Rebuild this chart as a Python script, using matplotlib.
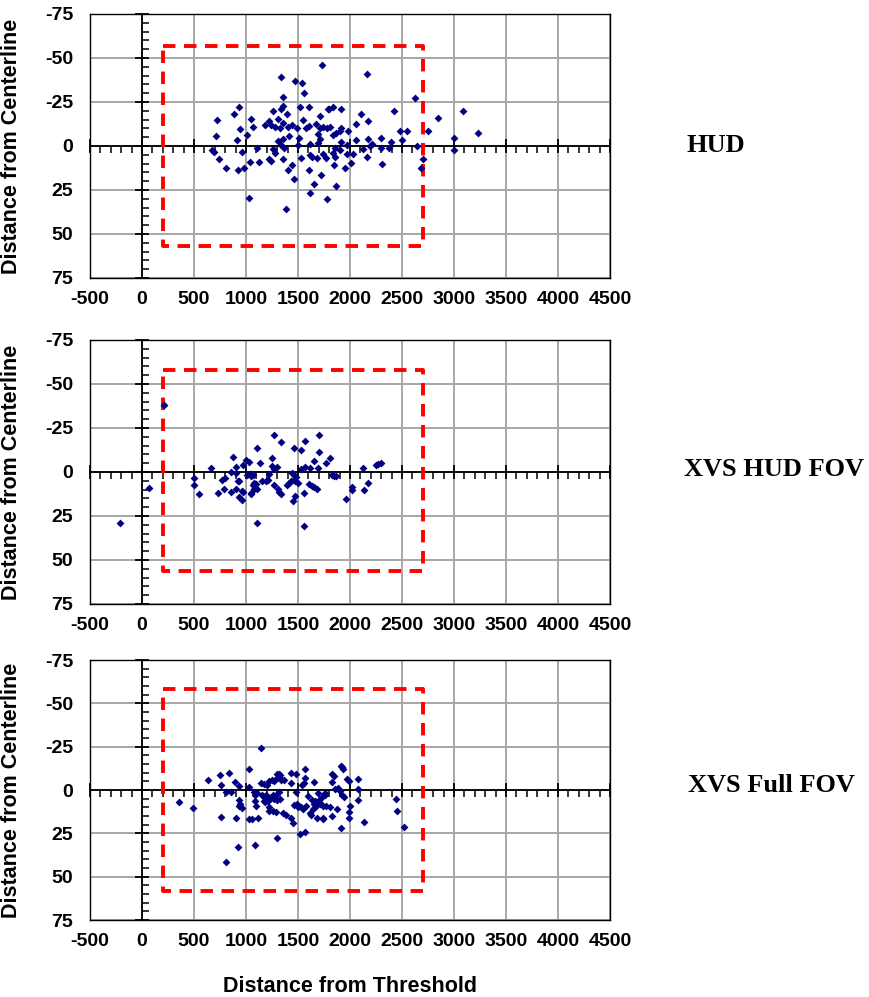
import numpy as np
import matplotlib.pyplot as plt
from matplotlib.ticker import MultipleLocator

# ---- data (distance from threshold, distance from centerline) ----
hud_x = [1728, 1337, 1471, 1535, 1558, 1353, 1359, 1337, 1256, 1391, 1519, 1606, 1788, 936, 887,
         718, 1048, 1071, 942, 1013, 708, 910, 1183, 1224, 1311, 1237, 1279, 1327, 1353, 1407,
         1439, 1487, 1551, 1577, 1609, 1673, 1712, 1712, 1744, 1776, 1696, 1712, 1696, 1615, 1513,
         1503, 1417, 1353, 1311, 1334, 1256, 1279, 1368, 1103, 958, 676, 695, 737, 811, 926,
         984, 1035, 1128, 1218, 1237, 1353, 1439, 1401, 1465, 1526, 1615, 1638, 1679, 1744, 1766,
         1609, 1721, 1657, 1615, 1776, 1032, 1388,
         2160, 2625, 3090, 2843, 3234, 2747, 2551, 2481, 2497, 3000, 3000, 2641, 2699, 2683,
         2423, 2176, 2103, 2054, 1984, 1911, 1840, 1798, 1911, 1808, 1865, 1904, 1840, 1911,
         2054, 2176, 2192, 2215, 2298, 2298, 2394, 2375, 2122, 1974, 2032, 1968, 1904, 1856,
         1840, 1856, 2160, 2010, 1952, 1843, 1865, 2311]
hud_y = [-46, -39, -37, -36, -30, -28, -23, -21, -20, -18, -22, -22, -21, -22, -18,
         -15, -15.5, -11, -9.5, -6, -5.7, -3.4, -12, -14, -15.5, -12, -11, -10.4, -13, -11,
         -12, -10.4, -14.6, -10, -11.4, -12.7, -17, -10, -10.8, -10.4, -6.6, -3.8, -1.9, -1, -4.4,
         -0.6, -5.7, -3.8, -2.8, -0.6, 1.9, 3.8, 0.9, 0.9, 3.2, 2.5, 3.4, 7.6, 12.3, 13.8,
         12.3, 9.1, 9.1, 7.6, 8.5, 7.2, 10.8, 13.5, 19, 6.6, 5.1, 6, 6.6, 4.7, 6.6,
         13.5, 16.3, 21.8, 26.5, 29.9, 29.7, 36,
         -41, -27.5, -20, -15.7, -7.6, -8.3, -8.5, -8.3, -3.2, -4.4, 2.5, 0, 7.6, 12.7,
         -20, -14.2, -18, -12.3, -8.5, -20.8, -22, -21, -10, -10.8, -7.6, -8.5, -6.2, -2.5,
         -3.2, -4.2, 0, -0.9, -4.7, 0.9, -2.3, 1.3, 1.5, -0.6, 4.4, 4.7, 2.5, 0.9,
         3.8, 6.2, 6.2, 9.5, 12.7, 11, 22.9, 10.4]

xvs_hud_x = [215, -215, 65, 502, 502, 550, 662, 735, 767, 796, 792, 853, 876, 901, 907,
             926, 901, 853, 933, 965, 971, 974, 997, 1029, 1013, 1045, 1067, 1083, 1045, 1103,
             1103, 1271, 1338, 1706, 1572, 1466, 1526, 1699, 1246, 1131, 1252, 1268, 1300, 1651, 1773,
             1809, 1692, 1619, 1572, 1529, 2122, 2247, 2295, 2270, 1830, 1850, 1870, 1440, 1460, 1480,
             1218, 1035, 1050, 1065, 935, 965, 1045, 1077, 1093, 1109, 1077, 1156, 1188, 1213, 1274,
             1309, 1322, 1332, 1395, 1418, 1437, 1459, 1475, 1500, 1452, 1475, 1560, 1603, 1635, 1651,
             1682, 2020, 2020, 1962, 2136, 2176, 1555]
xvs_hud_y = [-38.3, 28.7, 8.9, 3.2, 7.4, 12.6, -2.1, 12, 4.5, 3.6, 9.8, -0.2, -8.5, -2.8, 0.4,
             5.1, 9.8, 11.1, 14.1, 16, 11.3, -4, -6.8, -5.7, 1.9, 1, 7.4, 9.2, 11.7, -13.7,
             29, -21.3, -17.2, -20.9, -17.5, -13.4, -12.6, -11.1, -7.8, -4.9, -3.4, -1.5, -3, -6.2, -5.3,
             -7.8, -2.4, -2.1, -2.8, -1.5, -2.4, -4, -4.9, -4.3, 1.7, 2.3, 2, 0.5, 1.8, 2.8,
             1, 1, 2.3, 1.5, 5, 11, 12.3, 6, 7.1, 9.4, 9.4, 5.1, 5.1, 4.7, 7.4,
             9.4, 11.3, 12.6, 7.4, 6, 5.1, 4.5, 5.1, 6, 16.4, 13.6, 11.7, 6.6, 7.9, 8.5,
             9.8, 8.5, 10.3, 15.1, 10.4, 6, 30.7]

xvs_full_x = [1141, 1029, 837, 751, 639, 758, 895, 933, 811, 853, 359, 486, 758, 901, 935,
              945, 935, 960, 1029, 1029, 1055, 1115, 1086, 926, 811, 1294, 1523, 1571, 1080, 1090,
              1105, 1141, 1170, 1204, 1220, 1250, 1270, 1295, 1315, 1330, 1340, 1365, 1300, 1316, 1437,
              1476, 1571, 1565, 1555, 1540, 1657, 1437, 1476, 1150, 1170, 1190, 1200, 1215, 1190, 1170,
              1180, 1215, 1230, 1260, 1270, 1300, 1330, 1285, 1315, 1090, 1095, 1220, 1225, 1255, 1285,
              1354, 1380, 1428, 1450, 1466, 1490, 1500, 1530, 1550, 1580, 1620, 1640, 1660, 1680, 1665,
              1650, 1700, 1715, 1600, 1630, 1690, 1730, 1760, 1745, 1680, 1737, 1625,
              1909, 1920, 1928, 1826, 1842, 1826, 1970, 1986, 2081, 2075, 2081, 1858, 1880, 1906, 1920,
              1940, 1763, 1700, 1715, 1768, 1810, 1874, 2002, 1986, 1995, 1826, 1737, 1916, 2139, 2438,
              2455, 2522]
xvs_full_y = [-24, -12.1, -10, -8.7, -5.8, -2.9, -4.4, -2.3, 1, 1, 6.7, 10.6, 15.8, 16.3, 6,
              8, 9.5, 10.6, -1.9, 16.7, 16.7, 16.3, 31.7, 32.7, 41.3, 27.5, 25.4, 24, 1, 3,
              2, -4, -3.5, -3, -5, -6, -5, -7, -7.5, -8.5, -6, -6, -9, -9, -10,
              -9, -12, -7, -4, -3, -4.4, -4.2, 1, 3, 4, 3, 5, 4, 6, 6.5,
              7, 6.5, 5, 3, 5, 5.5, 5, 3, 1, 6.4, 9, 9.6, 12, 12, 12.5,
              13, 14.5, 16, 18.9, 8.7, 8, 10, 10, 11, 9, 13, 11, 10, 8.7, 6.5,
              8, 7, 8, 3.6, 5.5, 2, 4, 3, 9, 16.3, 16.3, 14.4,
              -14, -13, -12.3, -9.2, -8.3, -4.4, -6.3, -5.4, -6.3, -0.6, 5.8, -0.6, -1, 0.4, 2.9,
              3.8, 1.9, 5.8, 7.7, 9.2, 10, 11.2, 9.2, 12.5, 16.3, 14.8, 16.7, 21.7, 18.3, 5.4,
              11.9, 21.3]

# dashed approach boxes [x0, x1, y_top, y_bottom]
boxes = [[200, 2700, -57, 57], [200, 2700, -58, 56], [200, 2700, -58, 58]]
titles = ['HUD', 'XVS HUD FOV', 'XVS Full FOV']
xticks = list(range(-500, 4501, 500))
yticks = [-75, -50, -25, 0, 25, 50, 75]

panels = [(hud_x, hud_y), (xvs_hud_x, xvs_hud_y), (xvs_full_x, xvs_full_y)]
# axes rectangles in figure pixels: top, bottom
rects = [(14, 278), (340, 604), (660, 920)]
title_pos = [(716, 145), (774, 470), (771, 786)]

W, H = 869, 997
fig = plt.figure(figsize=(W / 100, H / 100), dpi=100)
tick_font = dict(fontfamily='Liberation Sans', fontweight='bold', fontsize=14)

for i, ((px, py), (t, b)) in enumerate(zip(panels, rects)):
    pos = [90 / W, 1 - b / H, 520 / W, (b - t) / H]
    ax = fig.add_axes(pos)
    ax.set_xlim(-500, 4500)
    ax.set_ylim(75, -75)
    ax.set_xticks(xticks)
    ax.set_yticks(yticks)
    ax.set_xticklabels([str(v) for v in xticks], **tick_font)
    ax.set_yticklabels([str(v) for v in yticks], **tick_font)
    ax.tick_params(length=0, pad=9)
    ax.tick_params(axis='y', pad=12)
    ax.grid(color='#a6a6a6', lw=1.4)
    for s in ax.spines.values():
        s.set_linewidth(1.0)
    ax.set_ylabel('Distance from Centerline', fontfamily='Liberation Sans',
                  fontweight='bold', fontsize=15.5)
    ax.yaxis.set_label_coords(-0.13, 0.5)
    if i == 2:
        ax.set_xlabel('Distance from Threshold', fontfamily='Liberation Sans',
                      fontweight='bold', fontsize=15.5)
        ax.xaxis.set_label_coords(0.5, -0.215)

    # crossing axes at zero with tick marks
    ax2 = fig.add_axes(pos)
    ax2.set_xlim(-500, 4500)
    ax2.set_ylim(75, -75)
    ax2.patch.set_visible(False)
    ax2.spines['left'].set_position(('data', 0))
    ax2.spines['bottom'].set_position(('data', 0))
    ax2.spines['top'].set_visible(False)
    ax2.spines['right'].set_visible(False)
    ax2.spines['left'].set_linewidth(1.3)
    ax2.spines['bottom'].set_linewidth(1.3)
    ax2.xaxis.set_major_locator(MultipleLocator(500))
    ax2.xaxis.set_minor_locator(MultipleLocator(100))
    ax2.yaxis.set_major_locator(MultipleLocator(25))
    ax2.yaxis.set_minor_locator(MultipleLocator(5))
    ax2.tick_params(axis='x', which='major', direction='inout', length=10, width=1.3, labelbottom=False)
    ax2.tick_params(axis='x', which='minor', direction='out', length=5, width=1.1)
    ax2.tick_params(axis='y', which='major', direction='inout', length=10, width=1.3, labelleft=False)
    ax2.tick_params(axis='y', which='minor', direction='in', length=5, width=1.1)

    x0, x1, yt, yb = boxes[i]
    ax2.plot([x0, x1, x1, x0, x0], [yt, yt, yb, yb, yt], color='#ff0000', lw=2.8,
             ls=(0, (3.2, 2.2)), zorder=3)
    ax2.scatter(px, py, marker='D', s=16, color='#000080', zorder=4, linewidths=0)

    tx, ty = title_pos[i]
    fig.text(tx / W, 1 - ty / H, titles[i], ha='center', va='center',
             fontfamily='Liberation Serif', fontweight='bold', fontsize=19)

fig.savefig('out.png', dpi=100)
